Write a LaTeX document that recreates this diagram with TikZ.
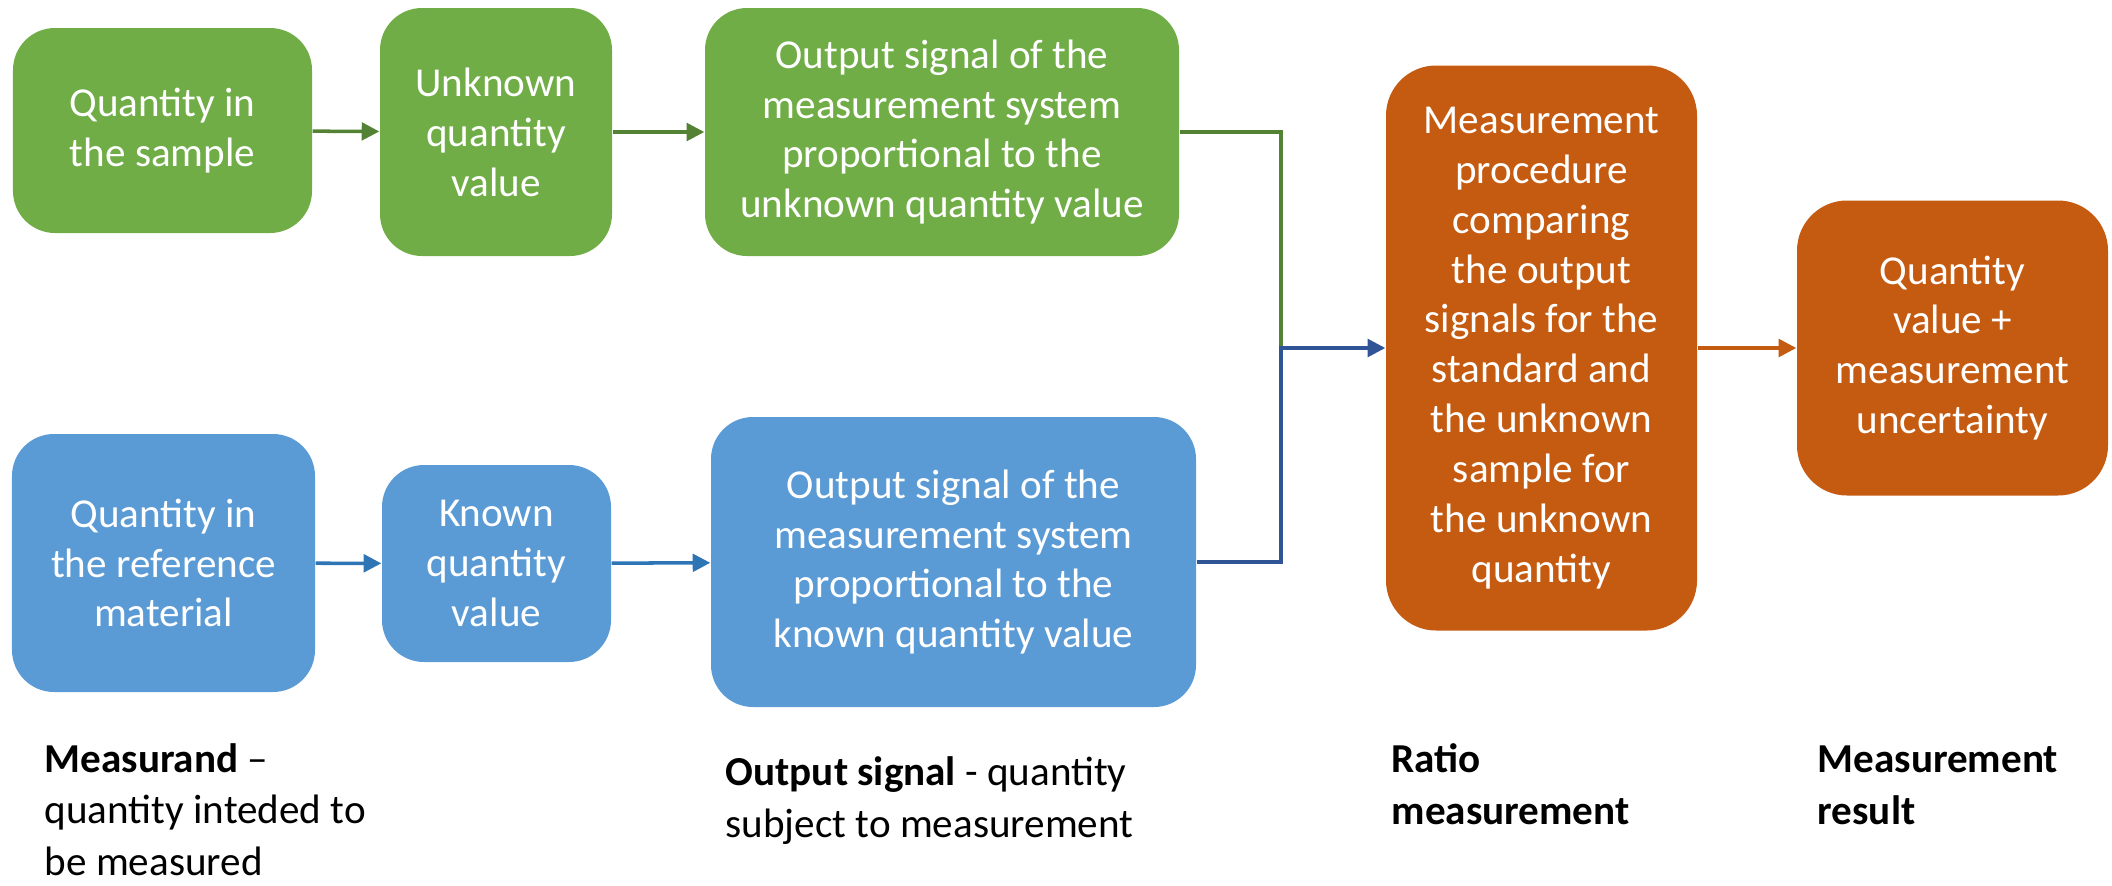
\documentclass[tikz,border=0pt]{standalone}
\usepackage{fontspec}
\setmainfont{Carlito}
\usepackage{xcolor}
\usetikzlibrary{arrows.meta, positioning, calc}
\definecolor{boxgreen}{RGB}{112, 173, 71}
\definecolor{linegreen}{RGB}{84, 130, 53}
\definecolor{boxblue}{RGB}{91, 155, 213}
\definecolor{lineblue}{RGB}{46, 117, 182}
\definecolor{darkblue}{RGB}{47, 85, 151}
\definecolor{boxorange}{RGB}{197, 90, 17}

\begin{document}
\begin{tikzpicture}[>={Triangle[length=5pt,width=5pt]},
  stage/.style={rounded corners=0.42cm, text=white, align=center,
    inner sep=0pt, font=\fontsize{11.7}{14.2}\selectfont},
  greenbox/.style={stage, fill=boxgreen},
  bluebox/.style={stage, fill=boxblue},
  orangebox/.style={stage, fill=boxorange, rounded corners=0.5cm},
  caption/.style={anchor=base west, align=left, inner sep=0pt,
    font=\fontsize{11.7}{14.6}\selectfont},
  link/.style={line width=1pt, ->}]
  \useasboundingbox (0,0) rectangle (21.12,8.85);
  % Sample row
  \node[greenbox, minimum width=2.99cm, minimum height=2.05cm] (qs)
    at (1.625,7.545) {Quantity in\\the sample};
  \node[greenbox, minimum width=2.32cm, minimum height=2.48cm] (uqv)
    at (4.96,7.53) {Unknown\\quantity\\value};
  \node[greenbox, minimum width=4.74cm, minimum height=2.48cm] (osu)
    at (9.42,7.53) {Output signal of the\\measurement system\\proportional to the\\unknown quantity value};
  % Reference row
  \node[bluebox, minimum width=3.03cm, minimum height=2.58cm] (qr)
    at (1.635,3.22) {Quantity in\\the reference\\material};
  \node[bluebox, minimum width=2.29cm, minimum height=1.97cm] (kqv)
    at (4.965,3.215) {Known\\quantity\\value};
  \node[bluebox, minimum width=4.85cm, minimum height=2.90cm] (osk)
    at (9.535,3.23) {Output signal of the\\measurement system\\proportional to the\\known quantity value};
  % Ratio and result
  \node[orangebox, minimum width=3.11cm, minimum height=5.65cm] (mp)
    at (15.415,5.37) {Measurement\\procedure\\comparing\\the output\\signals for the\\standard and\\the unknown\\sample for\\the unknown\\quantity};
  \node[orangebox, minimum width=3.11cm, minimum height=2.95cm] (res)
    at (19.525,5.37) {Quantity\\value +\\measurement\\uncertainty};
  \coordinate (jn) at (12.81,5.37);
  % Connectors
  \draw[link, linegreen] (qs) -- (uqv);
  \draw[link, linegreen] (uqv) -- (osu);
  \draw[line width=1pt, linegreen] (osu.east) -| (jn);
  \draw[link, lineblue] (qr) -- (kqv);
  \draw[link, lineblue] (kqv) -- (osk);
  \draw[link, darkblue] (osk.east) -| (jn) -- (mp.west);
  \draw[link, boxorange] (mp) -- (res);
  % Captions (base = last line)
  \node[caption] (cmeas) at (0.44,0.10)
    {\textbf{Measurand} --\\quantity inteded to\\be measured};
  \node[caption] (cout) at (7.25,0.48)
    {\textbf{Output signal} - quantity\\subject to measurement};
  \node[caption] (cratio) at (13.91,0.61) {\textbf{Ratio}\\\textbf{measurement}};
  \node[caption] (cres) at (18.17,0.61) {\textbf{Measurement}\\\textbf{result}};
\end{tikzpicture}
\end{document}
